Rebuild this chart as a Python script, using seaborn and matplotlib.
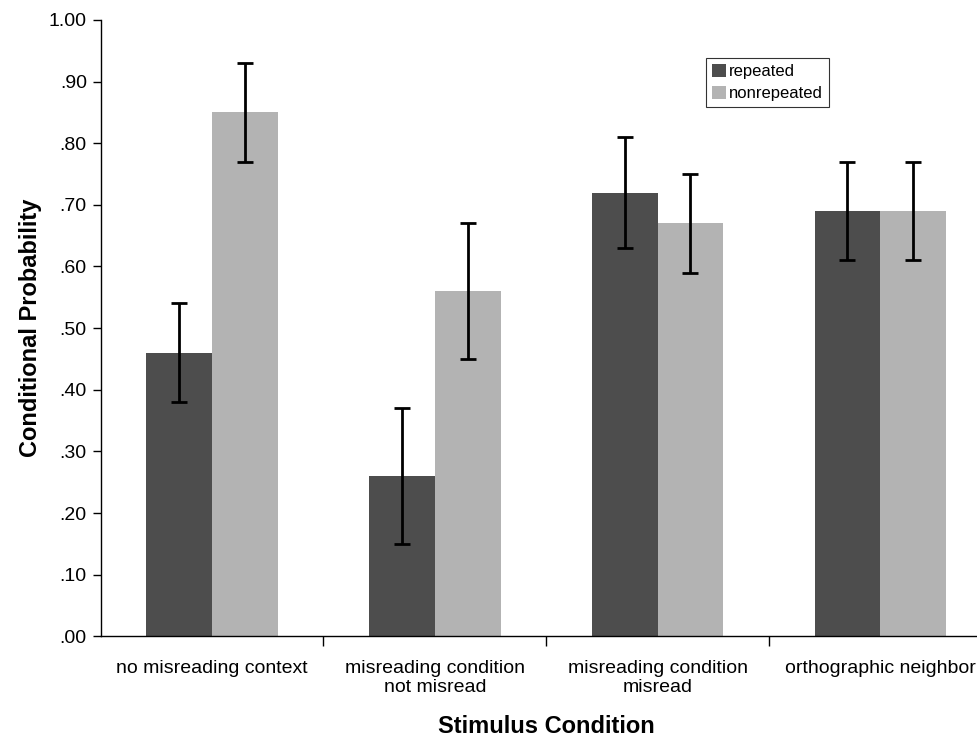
import pandas as pd
import matplotlib.pyplot as plt
import seaborn as sns
from matplotlib.ticker import FixedLocator, FuncFormatter

conditions = ['no misreading context', 'misreading condition\nnot misread',
              'misreading condition\nmisread', 'orthographic neighbor']
groups = ['repeated', 'nonrepeated']
repeated = [0.46, 0.26, 0.72, 0.69]
nonrepeated = [0.85, 0.56, 0.67, 0.69]
err_repeated = [0.08, 0.11, 0.09, 0.08]
err_nonrepeated = [0.08, 0.11, 0.08, 0.08]

df = pd.DataFrame({
    'condition': conditions * 2,
    'group': [groups[0]] * 4 + [groups[1]] * 4,
    'prob': repeated + nonrepeated,
    'err': err_repeated + err_nonrepeated,
})

sns.set_style('white')
plt.rcParams['font.family'] = ['Liberation Sans', 'DejaVu Sans']
plt.rcParams.update({'text.color': 'black', 'axes.labelcolor': 'black',
                     'xtick.color': 'black', 'ytick.color': 'black'})

fig = plt.figure(figsize=(9.78, 7.39), dpi=100)
ax = fig.add_axes([0.103, 0.139, 0.911, 0.834])

sns.barplot(data=df, x='condition', y='prob', hue='group', order=conditions,
            hue_order=groups, palette=['#4d4d4d', '#b3b3b3'], width=0.59,
            gap=0, errorbar=None, saturation=1, linewidth=0, ax=ax)

# error bars at bar centres
for cont, g in zip(ax.containers, groups):
    sub = df[df['group'] == g].set_index('condition').loc[conditions]
    xs = [p.get_x() + p.get_width() / 2 for p in cont.patches]
    ax.errorbar(xs, sub['prob'], yerr=sub['err'], fmt='none', ecolor='black',
                elinewidth=2, capsize=6, capthick=2, zorder=5)

ax.set_xlim(-0.5, 3.5)
ax.set_ylim(0, 1.0)
ax.set_yticks([i / 10 for i in range(11)])
ax.yaxis.set_major_formatter(FuncFormatter(lambda v, p: '1.00' if v >= 0.999 else f'{v:.2f}'[1:]))
ax.tick_params(axis='y', direction='out', length=6, width=1, labelsize=14, left=True, pad=4)
ax.tick_params(axis='x', which='major', length=0, labelsize=14, pad=17)
ax.xaxis.set_minor_locator(FixedLocator([0.5, 1.5, 2.5]))
ax.tick_params(axis='x', which='minor', direction='out', length=7, width=1, bottom=True)

for s in ['top', 'right']:
    ax.spines[s].set_visible(False)
for s in ['left', 'bottom']:
    ax.spines[s].set_color('black')
    ax.spines[s].set_linewidth(1)

ax.set_xlabel('Stimulus Condition', fontsize=17, fontweight='bold', labelpad=13)
ax.set_ylabel('Conditional Probability', fontsize=17, fontweight='bold', labelpad=5)

ax.legend(loc='upper left', bbox_to_anchor=(706 / 978, 1 - 58 / 739),
          bbox_transform=fig.transFigure, fontsize=12, frameon=True,
          fancybox=False, edgecolor='black', handlelength=0.85, handleheight=0.85,
          handletextpad=0.2, labelspacing=0.4, borderpad=0.35, borderaxespad=0)
ax.get_legend().get_frame().set_linewidth(0.8)

fig.savefig('out.png', dpi=100)
